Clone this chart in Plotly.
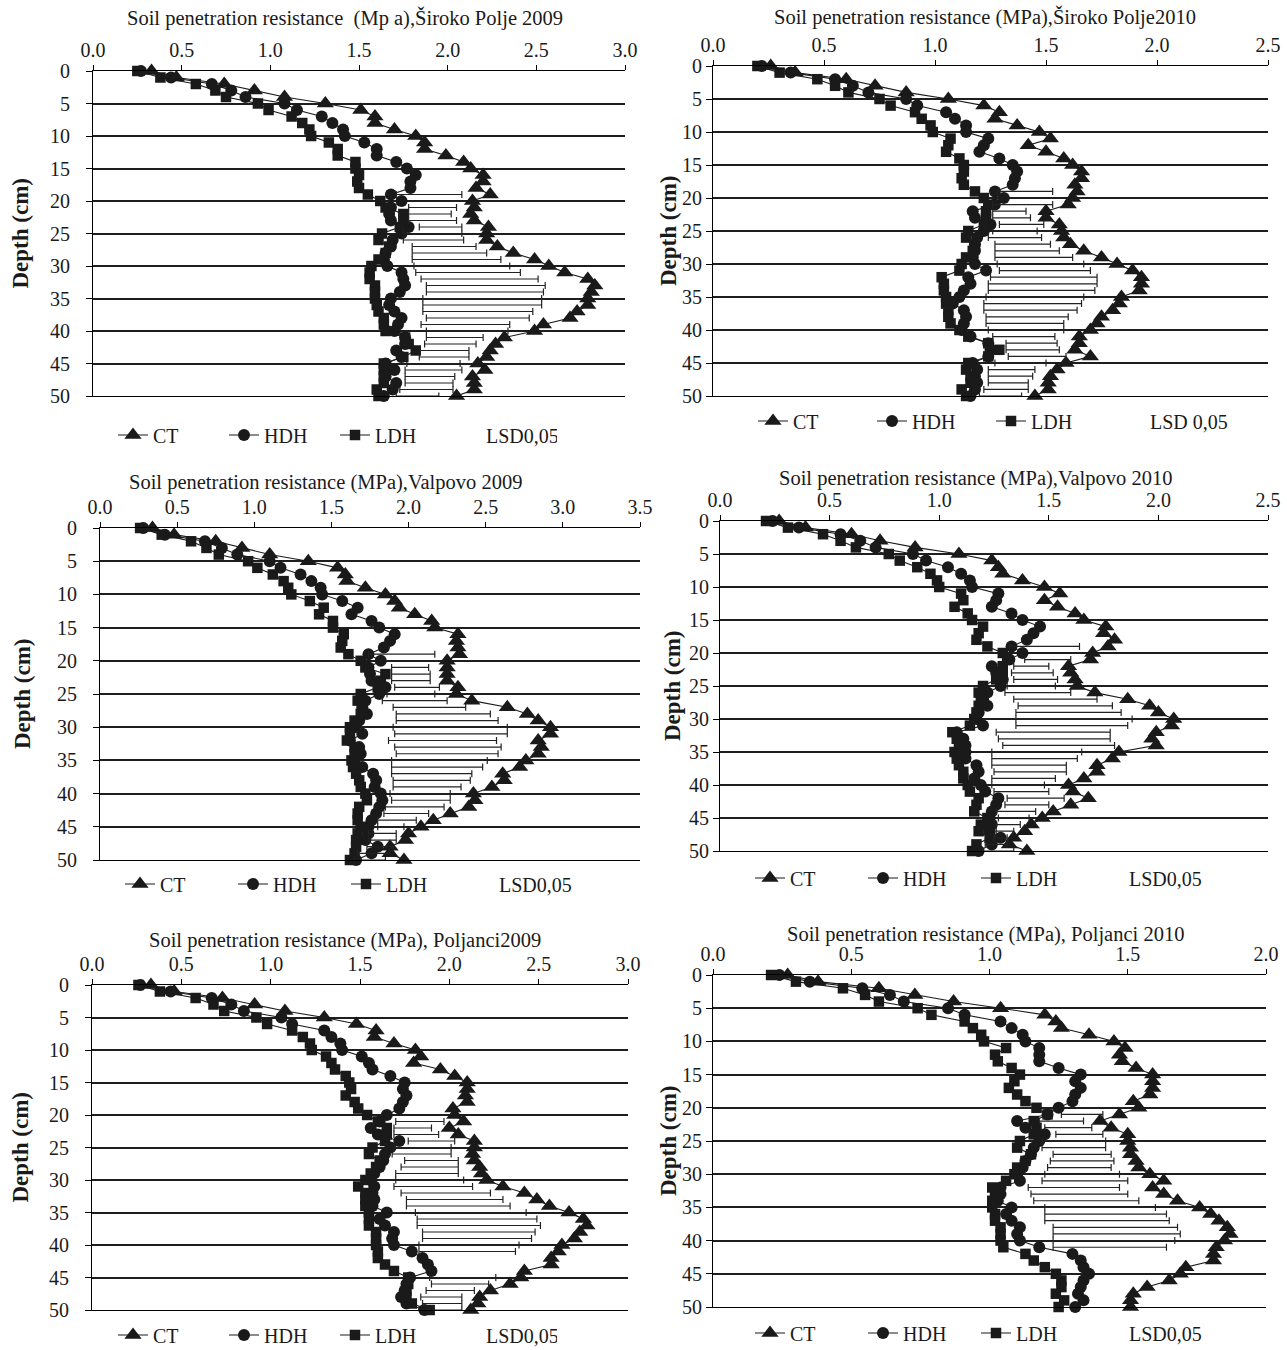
import plotly.graph_objects as go

DEPTH = list(range(51))

# ---------------- Široko Polje 2009 ----------------
SP09_CT = [0.33,0.47,0.74,0.91,1.08,1.31,1.51,1.59,1.59,1.70, 1.82,1.87,1.87,1.99,2.09,2.13,2.20,2.20,2.16,2.24,
           2.14,2.15,2.13,2.15,2.23,2.22,2.22,2.28,2.37,2.49, 2.57,2.66,2.79,2.83,2.81,2.79,2.79,2.73,2.69,2.54,
           2.49,2.32,2.27,2.24,2.22,2.17,2.21,2.14,2.15,2.15,2.05]
SP09_HDH = [0.27,0.44,0.67,0.78,0.86,1.08,1.15,1.29,1.35,1.41, 1.42,1.53,1.60,1.60,1.71,1.77,1.82,1.79,1.79,1.68,
            1.74,1.68,1.67,1.68,1.78,1.74,1.69,1.68,1.65,1.64, 1.66,1.74,1.75,1.76,1.73,1.68,1.67,1.70,1.74,1.72,
            1.70,1.76,1.76,1.71,1.74,1.65,1.70,1.65,1.71,1.69,1.64]
SP09_LDH = [0.25,0.38,0.58,0.69,0.75,0.93,0.99,1.12,1.18,1.22, 1.23,1.33,1.38,1.38,1.48,1.48,1.50,1.49,1.50,1.55,
            1.62,1.65,1.75,1.75,1.73,1.63,1.61,1.67,1.65,1.61, 1.57,1.56,1.56,1.59,1.59,1.59,1.60,1.61,1.64,1.64,
            1.65,1.76,1.78,1.82,1.75,1.64,1.64,1.64,1.64,1.60,1.61]
SP09_LSD_D = [19,21,22,23,24,25,26,27,28,29,30,31,32,33,34,35,36,37,38,39,40,41,42,43,44,45,46,47,48,49,50]
SP09_LSD_LO = [1.71,1.78,1.78,1.78,1.84,1.75,1.75,1.80,1.80,1.80,1.81,1.82,1.85,1.88,1.88,1.86,1.86,1.86,1.88,1.85,
               1.88,1.88,1.87,1.84,1.84,1.77,1.76,1.76,1.76,1.73,1.71]
SP09_LSD_HI = [2.08,2.05,2.02,2.05,2.08,2.08,2.09,2.16,2.22,2.30,2.35,2.41,2.51,2.55,2.54,2.53,2.53,2.48,2.46,2.35,
               2.34,2.20,2.16,2.12,2.12,2.07,2.08,2.04,2.03,2.03,1.95]

# ---------------- Široko Polje 2010 ----------------
SP10_CT = [0.26,0.37,0.60,0.73,0.87,1.06,1.22,1.29,1.27,1.37, 1.47,1.52,1.42,1.50,1.58,1.62,1.66,1.66,1.63,1.64,
           1.62,1.60,1.50,1.50,1.56,1.57,1.58,1.61,1.67,1.75, 1.82,1.89,1.93,1.93,1.92,1.84,1.83,1.80,1.75,1.73,
           1.70,1.65,1.65,1.63,1.70,1.59,1.55,1.52,1.51,1.51,1.45]
SP10_HDH = [0.22,0.35,0.55,0.63,0.70,0.87,0.92,1.05,1.09,1.14, 1.14,1.24,1.22,1.20,1.29,1.35,1.37,1.36,1.35,1.27,
            1.31,1.27,1.17,1.18,1.25,1.22,1.19,1.18,1.18,1.17, 1.18,1.23,1.15,1.16,1.13,1.11,1.08,1.13,1.14,1.13,
            1.12,1.16,1.24,1.25,1.24,1.17,1.19,1.18,1.19,1.18,1.16]
SP10_LDH = [0.20,0.30,0.47,0.55,0.61,0.75,0.80,0.91,0.94,0.98, 0.99,1.07,1.06,1.05,1.11,1.13,1.13,1.12,1.13,1.18,
            1.22,1.24,1.23,1.23,1.22,1.15,1.14,1.18,1.17,1.14, 1.12,1.11,1.03,1.04,1.04,1.05,1.05,1.06,1.06,1.07,
            1.11,1.15,1.24,1.29,1.24,1.15,1.14,1.16,1.16,1.12,1.14]
SP10_LSD_D = [19,21,22,23,24,25,26,27,28,29,30,31,32,33,34,35,36,37,38,39,40,41,42,43,44,45,46,47,48,49,50]
SP10_LSD_LO = [1.28,1.26,1.26,1.26,1.29,1.26,1.24,1.27,1.27,1.27,1.28,1.29,1.25,1.24,1.24,1.23,1.22,1.22,1.23,1.23,
               1.24,1.26,1.32,1.32,1.33,1.27,1.24,1.24,1.24,1.22,1.20]
SP10_LSD_HI = [1.53,1.53,1.41,1.43,1.49,1.46,1.48,1.52,1.56,1.62,1.67,1.70,1.73,1.73,1.72,1.67,1.66,1.64,1.60,1.58,
               1.58,1.54,1.55,1.56,1.59,1.50,1.45,1.44,1.42,1.42,1.39]

# ---------------- Valpovo 2009 ----------------
VA09_CT = [0.34,0.48,0.75,0.92,1.10,1.35,1.54,1.59,1.60,1.72, 1.85,1.91,1.94,2.04,2.15,2.17,2.32,2.31,2.32,2.33,
           2.25,2.25,2.25,2.25,2.32,2.31,2.41,2.64,2.77,2.84, 2.92,2.92,2.84,2.86,2.84,2.76,2.72,2.61,2.62,2.54,
           2.42,2.43,2.39,2.27,2.16,2.08,2.00,1.98,1.88,1.88,1.97]
VA09_HDH = [0.28,0.42,0.68,0.79,0.89,1.10,1.17,1.30,1.37,1.43, 1.44,1.57,1.67,1.63,1.76,1.81,1.91,1.88,1.84,1.74,
            1.82,1.74,1.75,1.76,1.85,1.81,1.72,1.70,1.73,1.68, 1.65,1.70,1.62,1.68,1.69,1.65,1.70,1.77,1.79,1.78,
            1.82,1.83,1.81,1.79,1.76,1.74,1.74,1.72,1.80,1.76,1.66]
VA09_LDH = [0.26,0.40,0.59,0.69,0.77,0.96,1.02,1.12,1.19,1.22, 1.24,1.36,1.45,1.42,1.51,1.51,1.58,1.57,1.56,1.61,
            1.69,1.72,1.85,1.82,1.80,1.69,1.67,1.70,1.69,1.65, 1.62,1.62,1.60,1.65,1.65,1.63,1.64,1.66,1.68,1.69,
            1.72,1.73,1.68,1.67,1.67,1.69,1.67,1.66,1.66,1.65,1.62]
VA09_LSD_D = [19,21,22,23,24,25,26,27,28,29,30,31,32,33,34,35,36,37,38,39,40,41,42,43,44,45,46,47,48,49,50]
VA09_LSD_LO = [1.74,1.89,1.89,1.89,1.91,1.86,1.83,1.90,1.92,1.92,1.90,1.91,1.87,1.91,1.92,1.89,1.89,1.89,1.90,1.90,
               1.88,1.89,1.85,1.84,1.80,1.80,1.74,1.74,1.73,1.67,1.65]
VA09_LSD_HI = [2.17,2.13,2.14,2.14,2.20,2.17,2.25,2.37,2.53,2.58,2.64,2.64,2.57,2.60,2.58,2.51,2.48,2.41,2.40,2.34,
               2.27,2.27,2.23,2.13,2.05,1.97,1.92,1.92,1.90,1.88,1.85]

# ---------------- Valpovo 2010 ----------------
VA10_CT = [0.27,0.39,0.60,0.73,0.89,1.09,1.24,1.27,1.29,1.38, 1.48,1.55,1.48,1.54,1.62,1.66,1.76,1.75,1.80,1.77,
           1.70,1.69,1.59,1.60,1.62,1.63,1.71,1.86,1.96,2.00, 2.07,2.06,1.99,1.97,1.99,1.82,1.79,1.72,1.72,1.66,
           1.59,1.61,1.68,1.60,1.52,1.47,1.42,1.39,1.34,1.32,1.40]
VA10_HDH = [0.24,0.36,0.55,0.64,0.71,0.88,0.94,1.04,1.10,1.14, 1.15,1.27,1.26,1.24,1.33,1.38,1.46,1.43,1.40,1.33,
            1.38,1.32,1.24,1.26,1.29,1.28,1.22,1.20,1.22,1.18, 1.17,1.20,1.08,1.11,1.12,1.12,1.12,1.17,1.18,1.16,
            1.19,1.21,1.27,1.26,1.24,1.23,1.24,1.23,1.28,1.24,1.18]
VA10_LDH = [0.21,0.31,0.47,0.55,0.62,0.77,0.82,0.90,0.96,0.99, 1.00,1.10,1.11,1.07,1.13,1.15,1.20,1.18,1.17,1.22,
            1.29,1.31,1.29,1.29,1.26,1.20,1.18,1.19,1.18,1.17, 1.16,1.14,1.06,1.08,1.09,1.07,1.08,1.09,1.11,1.11,
            1.13,1.14,1.18,1.17,1.16,1.22,1.19,1.18,1.23,1.17,1.15]
VA10_LSD_D = [19,21,22,23,24,25,26,27,28,29,30,31,32,33,34,35,36,37,38,39,40,41,42,43,44,45,46,47,48,49,50]
VA10_LSD_LO = [1.32,1.39,1.34,1.33,1.34,1.31,1.30,1.34,1.36,1.35,1.35,1.35,1.26,1.27,1.29,1.24,1.24,1.24,1.25,1.24,
               1.24,1.25,1.31,1.30,1.26,1.27,1.26,1.26,1.25,1.21,1.20]
VA10_LSD_HI = [1.64,1.60,1.50,1.52,1.54,1.53,1.60,1.72,1.79,1.83,1.88,1.86,1.78,1.78,1.80,1.65,1.63,1.58,1.58,1.53,
               1.48,1.50,1.57,1.50,1.44,1.41,1.37,1.34,1.31,1.31,1.34]

# ---------------- Poljanci 2009 ----------------
PO09_CT = [0.33,0.46,0.73,0.91,1.08,1.30,1.48,1.59,1.58,1.69, 1.81,1.84,1.80,1.95,2.03,2.10,2.10,2.09,2.10,2.02,
           2.03,2.08,2.00,2.05,2.14,2.14,2.13,2.14,2.17,2.18, 2.21,2.30,2.42,2.49,2.56,2.67,2.75,2.77,2.73,2.70,
           2.63,2.61,2.57,2.57,2.42,2.40,2.34,2.23,2.17,2.16,2.12]
PO09_HDH = [0.27,0.44,0.67,0.78,0.85,1.06,1.12,1.30,1.34,1.39, 1.40,1.51,1.55,1.57,1.67,1.75,1.74,1.76,1.74,1.72,
            1.65,1.61,1.56,1.60,1.72,1.67,1.64,1.63,1.61,1.58, 1.56,1.58,1.57,1.58,1.57,1.65,1.61,1.64,1.69,1.68,
            1.69,1.79,1.85,1.88,1.90,1.78,1.76,1.75,1.73,1.76,1.86]
PO09_LDH = [0.26,0.38,0.58,0.68,0.74,0.92,0.98,1.12,1.18,1.22, 1.23,1.31,1.34,1.36,1.42,1.44,1.45,1.42,1.47,1.49,
            1.54,1.60,1.65,1.65,1.64,1.57,1.55,1.61,1.59,1.56, 1.53,1.49,1.53,1.53,1.53,1.55,1.55,1.55,1.59,1.59,
            1.59,1.60,1.60,1.64,1.69,1.77,1.77,1.76,1.76,1.79,1.89]
PO09_LSD_D = [21,22,23,24,25,26,27,28,29,30,31,32,33,34,35,36,37,38,39,40,41,45,46,47,48,49,50]
PO09_LSD_LO = [1.70,1.69,1.69,1.77,1.69,1.68,1.75,1.73,1.70,1.70,1.69,1.73,1.76,1.76,1.81,1.82,1.82,1.85,1.85,1.83,
               1.83,1.89,1.90,1.87,1.84,1.85,1.83]
PO09_LSD_HI = [1.97,1.90,1.94,2.03,2.01,2.01,2.05,2.05,2.05,2.08,2.13,2.23,2.30,2.34,2.43,2.49,2.51,2.48,2.46,2.39,
               2.37,2.26,2.22,2.14,2.07,2.07,2.07]

# ---------------- Poljanci 2010 ----------------
PO10_CT = [0.27,0.38,0.60,0.73,0.87,1.04,1.20,1.24,1.26,1.36, 1.45,1.49,1.47,1.48,1.53,1.59,1.59,1.59,1.58,1.52,
           1.54,1.47,1.40,1.44,1.50,1.50,1.51,1.51,1.53,1.54, 1.58,1.63,1.59,1.63,1.68,1.76,1.80,1.83,1.86,1.87,
           1.85,1.82,1.81,1.81,1.71,1.69,1.65,1.57,1.52,1.51,1.51]
PO10_HDH = [0.24,0.35,0.54,0.64,0.69,0.85,0.91,1.04,1.08,1.12, 1.13,1.18,1.18,1.18,1.25,1.33,1.31,1.33,1.31,1.30,
            1.25,1.21,1.10,1.13,1.20,1.18,1.16,1.15,1.13,1.12, 1.10,1.11,1.04,1.04,1.03,1.08,1.06,1.08,1.11,1.10,
            1.11,1.18,1.30,1.33,1.34,1.36,1.34,1.33,1.32,1.34,1.31]
PO10_LDH = [0.21,0.30,0.47,0.55,0.60,0.74,0.79,0.91,0.94,0.97, 0.98,1.06,1.02,1.03,1.08,1.11,1.09,1.07,1.10,1.13,
            1.17,1.21,1.16,1.17,1.16,1.11,1.10,1.15,1.13,1.10, 1.09,1.06,1.01,1.02,1.01,1.01,1.02,1.02,1.04,1.04,
            1.04,1.05,1.13,1.16,1.20,1.24,1.26,1.26,1.24,1.27,1.25]
PO10_LSD_D = [21,22,23,24,25,26,27,28,29,30,31,32,33,34,35,36,37,38,39,40,41]
PO10_LSD_LO = [1.26,1.18,1.20,1.24,1.19,1.19,1.23,1.22,1.21,1.20,1.19,1.14,1.15,1.16,1.20,1.20,1.20,1.23,1.23,1.23,1.23]
PO10_LSD_HI = [1.41,1.34,1.37,1.41,1.42,1.42,1.44,1.45,1.44,1.47,1.50,1.47,1.50,1.54,1.60,1.64,1.65,1.68,1.69,1.67,1.64]

SERIES_NAMES = ["CT", "HDH", "LDH"]
Y_TICKS = [0, 5, 10, 15, 20, 25, 30, 35, 40, 45, 50]

PANELS = [
    dict(title="Soil penetration resistance  (Mp a),Široko Polje 2009", data=(SP09_CT, SP09_HDH, SP09_LDH),
         lsd=(SP09_LSD_D, SP09_LSD_LO, SP09_LSD_HI), lsd_label="LSD0,05", xmax=3.0,
         xpx=(93, 625), ypx=(71, 396), tpx=(345, 18), lpx=(118, 435), dpx=20, ew=66, ysoff=12),
    dict(title="Soil penetration resistance (MPa),Široko Polje2010", data=(SP10_CT, SP10_HDH, SP10_LDH),
         lsd=(SP10_LSD_D, SP10_LSD_LO, SP10_LSD_HI), lsd_label="LSD 0,05", xmax=2.5,
         xpx=(713, 1268), ypx=(66, 396), tpx=(985, 17), lpx=(758, 421), dpx=668, ew=74, ysoff=0),
    dict(title="Soil penetration resistance (MPa),Valpovo 2009", data=(VA09_CT, VA09_HDH, VA09_LDH),
         lsd=(VA09_LSD_D, VA09_LSD_LO, VA09_LSD_HI), lsd_label="LSD0,05", xmax=3.5,
         xpx=(100, 640), ypx=(528, 860), tpx=(325, 483), lpx=(125, 884), dpx=22, ew=68, ysoff=12),
    dict(title="Soil penetration resistance (MPa),Valpovo 2010", data=(VA10_CT, VA10_HDH, VA10_LDH),
         lsd=(VA10_LSD_D, VA10_LSD_LO, VA10_LSD_HI), lsd_label="LSD0,05", xmax=2.5,
         xpx=(720, 1268), ypx=(521, 851), tpx=(975, 478), lpx=(755, 878), dpx=672, ew=68, ysoff=0),
    dict(title="Soil penetration resistance (MPa), Poljanci2009", data=(PO09_CT, PO09_HDH, PO09_LDH),
         lsd=(PO09_LSD_D, PO09_LSD_LO, PO09_LSD_HI), lsd_label="LSD0,05", xmax=3.0,
         xpx=(92, 628), ypx=(985, 1310), tpx=(345, 940), lpx=(118, 1335), dpx=20, ew=66, ysoff=12),
    dict(title="Soil penetration resistance (MPa), Poljanci 2010", data=(PO10_CT, PO10_HDH, PO10_LDH),
         lsd=(PO10_LSD_D, PO10_LSD_LO, PO10_LSD_HI), lsd_label="LSD0,05", xmax=2.0,
         xpx=(713, 1266), ypx=(975, 1307), tpx=(985, 934), lpx=(755, 1333), dpx=668, ew=68, ysoff=0),
]

W, H = 1287, 1350
FONT = "Liberation Serif"
INK = "#1a1a1a"
SYMBOLS = [("triangle-up", 15), ("circle", 12), ("square", 10.5)]
LEG_DX = 5   # px between legend anchor and first symbol

fig = go.Figure()
annotations = []
layout = {}

for i, p in enumerate(PANELS, start=1):
    sfx = "" if i == 1 else str(i)
    xa, ya, leg = "x" + sfx, "y" + sfx, "legend" + sfx
    d, lo, hi = p["lsd"]
    centers = [(a + b) / 2 for a, b in zip(lo, hi)]
    halves = [(b - a) / 2 for a, b in zip(lo, hi)]
    lsd_trace = go.Scatter(
        x=centers, y=d, mode="markers", name=p["lsd_label"],
        marker=dict(color="rgba(0,0,0,0)", size=6),
        error_x=dict(type="data", array=halves, symmetric=True, color="#222222", thickness=1.2, width=3.5),
        xaxis=xa, yaxis=ya, legend=leg, legendrank=4, hoverinfo="skip")
    for name, vals, (sym, size), rank in zip(SERIES_NAMES, p["data"], SYMBOLS, (1, 2, 3)):
        fig.add_trace(go.Scatter(
            x=vals, y=DEPTH, mode="lines+markers", name=name,
            line=dict(color=INK, width=1.1),
            marker=dict(symbol=sym, size=size, color=INK),
            xaxis=xa, yaxis=ya, legend=leg, legendrank=rank, cliponaxis=False))
    fig.add_trace(lsd_trace)

    x0, x1 = p["xpx"]
    y0, y1 = p["ypx"]
    layout["xaxis" + sfx] = dict(
        domain=[x0 / W, x1 / W], range=[0, p["xmax"]], side="top", anchor=ya,
        dtick=0.5, tick0=0, tickformat=".1f", showgrid=False, zeroline=False,
        showline=True, mirror=True, linecolor="black", linewidth=1.2, ticks="outside", ticklen=5,
        tickcolor="black", automargin=False,
        tickfont=dict(family=FONT, size=20, color=INK))
    layout["yaxis" + sfx] = dict(
        domain=[1 - y1 / H, 1 - y0 / H], range=[50, 0], anchor=xa,
        tickvals=Y_TICKS, showgrid=True, gridcolor="#1e1e1e", gridwidth=1.5,
        zeroline=False, showline=True, linecolor="black", linewidth=1.2,
        ticks="outside", ticklen=6, tickcolor="black", automargin=False,
        ticklabelstandoff=p["ysoff"],
        tickfont=dict(family=FONT, size=20, color=INK))
    layout[leg] = dict(
        x=(p["lpx"][0] - LEG_DX) / W, y=1 - p["lpx"][1] / H, xanchor="left", yanchor="middle",
        orientation="h", entrywidth=p["ew"], entrywidthmode="pixels", bgcolor="rgba(0,0,0,0)",
        font=dict(family=FONT, size=20, color=INK), traceorder="normal")
    annotations.append(dict(
        text=p["title"], x=p["tpx"][0] / W, y=1 - p["tpx"][1] / H, xref="paper", yref="paper",
        xanchor="center", yanchor="middle", showarrow=False,
        font=dict(family=FONT, size=20.5, color=INK)))
    annotations.append(dict(
        text="<b>Depth (cm)</b>", x=p["dpx"] / W, y=1 - (y0 + y1) / 2 / H, xref="paper", yref="paper",
        xanchor="center", yanchor="middle", textangle=-90, showarrow=False,
        font=dict(family=FONT, size=23, color=INK)))

fig.update_layout(
    width=W, height=H, autosize=False,
    margin=dict(l=0, r=0, t=0, b=0, autoexpand=False),
    paper_bgcolor="white", plot_bgcolor="white",
    showlegend=True, annotations=annotations,
    font=dict(family=FONT, color=INK),
    **layout)

fig.write_html("out.html", config={"displayModeBar": False},
               post_script="document.body.style.margin='0px';document.body.style.overflow='hidden';")
